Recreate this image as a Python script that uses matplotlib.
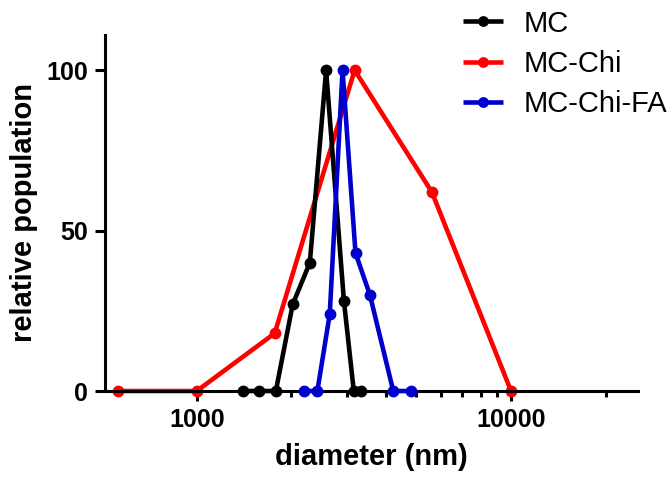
import numpy as np
import matplotlib
matplotlib.use('Agg')
import matplotlib.pyplot as plt
from matplotlib.ticker import FixedLocator, NullFormatter

plt.rcParams['font.family'] = ['Liberation Sans', 'DejaVu Sans']

# --- Dane ---
mc_x = [1400, 1580, 1785, 2020, 2290, 2580, 2940, 3160, 3320]
mc_y = [0, 0, 0, 27, 40, 100, 28, 0, 0]

chi_x = [560, 1000, 1770, 3180, 5600, 10000]
chi_y = [0, 0, 18, 100, 62, 0]

fa_x = [2190, 2420, 2650, 2910, 3200, 3555, 4220, 4790]
fa_y = [0, 0, 24, 100, 43, 30, 0, 0]

x_major = [1000, 10000]
x_minor = [2000, 3000, 4000, 5000, 6000, 7000, 8000, 9000, 20000]
y_ticks = [0, 50, 100]

# --- Wykres ---
fig = plt.figure(figsize=(6.72, 4.78), dpi=100)
ax = fig.add_axes([0.156, 0.182, 0.793, 0.745])

kw = dict(lw=3.3, marker='o', ms=7.5, clip_on=False, solid_capstyle='butt')
ax.plot(mc_x, mc_y, color='black', label='MC', zorder=3, **kw)
ax.plot(chi_x, chi_y, color='#ff0000', label='MC-Chi', zorder=2, **kw)
ax.plot(fa_x, fa_y, color='#0000cc', label='MC-Chi-FA', zorder=4, **kw)

ax.set_xscale('log')
ax.set_xlim(510, 25300)
ax.set_ylim(0, 111)

ax.xaxis.set_major_locator(FixedLocator(x_major))
ax.xaxis.set_minor_locator(FixedLocator(x_minor))
ax.xaxis.set_minor_formatter(NullFormatter())
ax.set_xticklabels([str(v) for v in x_major])
ax.set_yticks(y_ticks)

for s in ['top', 'right']:
    ax.spines[s].set_visible(False)
for s in ['left', 'bottom']:
    ax.spines[s].set_linewidth(2.2)

ax.tick_params(which='major', length=7, width=2.2, direction='out', pad=5,
               labelsize=18)
ax.tick_params(which='minor', length=4.5, width=2.2, direction='out')
for lab in ax.get_xticklabels() + ax.get_yticklabels():
    lab.set_fontweight('bold')

ax.set_xlabel('diameter (nm)', fontsize=21, fontweight='bold', labelpad=8)
ax.set_ylabel('relative population', fontsize=21, fontweight='bold', labelpad=6)

ax.legend(loc='upper left', bbox_to_anchor=(0.622, 1.145), frameon=False,
          fontsize=21, handlelength=1.4, handletextpad=0.7, labelspacing=0.42,
          markerscale=0.9)

fig.savefig('out.png', dpi=100)
